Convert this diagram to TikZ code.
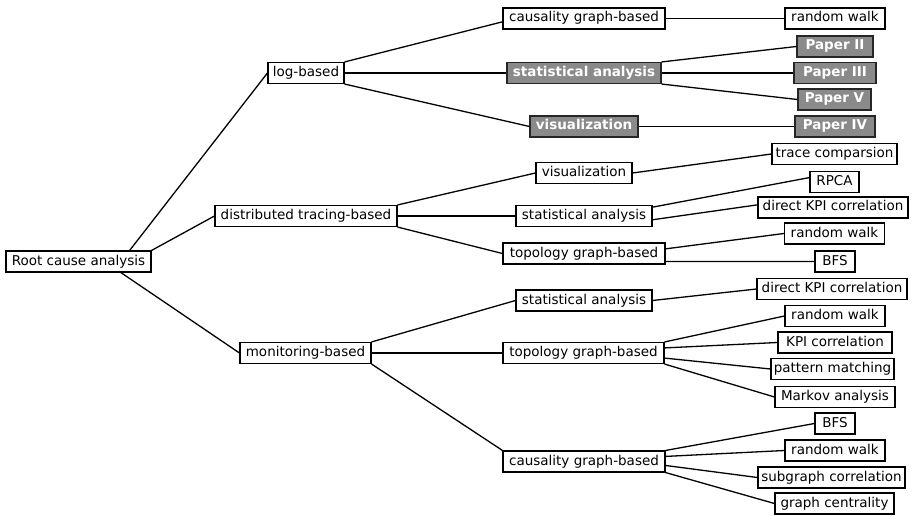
\documentclass[tikz,border=0pt]{standalone}
\usepackage{fontspec}
\setmainfont{DejaVu Sans}
\usetikzlibrary{calc}
\definecolor{paperfill}{RGB}{138,138,138}
\begin{document}
\begin{tikzpicture}[x=1pt,y=-1pt,
  box/.style={draw=black, line width=1.1pt, fill=white, inner xsep=1pt, inner ysep=0pt,
    minimum height=21pt, font=\fontsize{13.5}{16}\selectfont, text height=10pt, text depth=3pt},
  pbox/.style={box, fill=paperfill, draw=black!85, text=white, font=\fontsize{13.5}{16}\selectfont\bfseries},
  conn/.style={line width=1.3pt},
  wd/.style={minimum width=#1pt}]
\useasboundingbox (0,0) rectangle (916,516);
% level 0 and 1
\node[box,wd=145] (root) at (78.5,261.5) {Root cause analysis};
\node[box,wd=76]  (log)  at (306,73) {log-based};
\node[box,wd=182] (dist) at (306,216) {distributed tracing-based};
\node[box,wd=131] (mon)  at (305.5,353) {monitoring-based};
% level 2
\node[box,wd=162]  (lcaus) at (584,18.5) {causality graph-based};
\node[pbox,wd=154] (lstat) at (584,73) {statistical analysis};
\node[pbox,wd=108] (lvis)  at (584,126.5) {visualization};
\node[box,wd=96]   (dvis)  at (584,173) {visualization};
\node[box,wd=136]  (dstat) at (584,216) {statistical analysis};
\node[box,wd=162]  (dtopo) at (584,253.5) {topology graph-based};
\node[box,wd=136]  (mstat) at (584,300.5) {statistical analysis};
\node[box,wd=161]  (mtopo) at (583.5,353) {topology graph-based};
\node[box,wd=162]  (mcaus) at (584,461.5) {causality graph-based};
% level 3
\node[box,wd=100]  (rw1)  at (835,18.5) {random walk};
\node[pbox,wd=76]  (p2)   at (835,46.5) {Paper II};
\node[pbox,wd=82]  (p3)   at (835,73) {Paper III};
\node[pbox,wd=73]  (p5)   at (834.5,99.5) {Paper V};
\node[pbox,wd=80]  (p4)   at (835,126.5) {Paper IV};
\node[box,wd=125]  (tc)   at (834.5,154) {trace comparsion};
\node[box,wd=49]   (rpca) at (834.5,182) {RPCA};
\node[box,wd=150]  (dkpi1) at (833,207.5) {direct KPI correlation};
\node[box,wd=100]  (rw2)  at (834.5,233.5) {random walk};
\node[box,wd=40]   (bfs1) at (835,261.5) {BFS};
\node[box,wd=150]  (dkpi2) at (832,289) {direct KPI correlation};
\node[box,wd=100]  (rw3)  at (835,316) {random walk};
\node[box,wd=114]  (kpi)  at (835,342.5) {KPI correlation};
\node[box,wd=123]  (pm)   at (832.5,369) {pattern matching};
\node[box,wd=120]  (ma)   at (835,397) {Markov analysis};
\node[box,wd=40]   (bfs2) at (835,423.5) {BFS};
\node[box,wd=100]  (rw4)  at (835,450.5) {random walk};
\node[box,wd=147]  (sub)  at (831.5,477.5) {subgraph correlation};
\node[box,wd=119]  (gc)   at (834.5,503.5) {graph centrality};
% connectors: root
\draw[conn] ($(root.north west)!0.85!(root.north east)$) -- (log.west);
\draw[conn] (root.north east) -- (dist.west);
\draw[conn] ($(root.south west)!0.79!(root.south east)$) -- (mon.west);
% log
\draw[conn] (log.north east) -- ($(lcaus.north west)!0.65!(lcaus.south west)$);
\draw[conn] (log.east) -- (lstat.west);
\draw[conn] (log.south east) -- (lvis.west);
% dist
\draw[conn] (dist.north east) -- (dvis.west);
\draw[conn] (dist.east) -- (dstat.west);
\draw[conn] (dist.south east) -- (dtopo.west);
% mon
\draw[conn] (mon.north east) -- (mstat.west);
\draw[conn] (mon.east) -- (mtopo.west);
\draw[conn] (mon.south east) -- (mcaus.north west);
% level 2 -> 3
\draw[conn] (lcaus.east) -- (rw1.west);
\draw[conn] (lstat.north east) -- (p2.west);
\draw[conn] (lstat.east) -- (p3.west);
\draw[conn] (lstat.south east) -- (p5.west);
\draw[conn] (lvis.east) -- (p4.west);
\draw[conn] (dvis.east) -- (tc.west);
\draw[conn] ($(dstat.north east)!0.1!(dstat.south east)$) -- ($(rpca.north west)!0.3!(rpca.south west)$);
\draw[conn] ($(dstat.north east)!0.67!(dstat.south east)$) -- ($(dkpi1.north west)!0.38!(dkpi1.south west)$);
\draw[conn] ($(dtopo.north east)!0.29!(dtopo.south east)$) -- (rw2.west);
\draw[conn] ($(dtopo.north east)!0.86!(dtopo.south east)$) -- (bfs1.west);
\draw[conn] (mstat.east) -- (dkpi2.west);
\draw[conn] (mtopo.north east) -- (rw3.west);
\draw[conn] ($(mtopo.north east)!0.27!(mtopo.south east)$) -- (kpi.west);
\draw[conn] ($(mtopo.north east)!0.73!(mtopo.south east)$) -- (pm.west);
\draw[conn] (mtopo.south east) -- (ma.west);
\draw[conn] (mcaus.north east) -- (bfs2.west);
\draw[conn] ($(mcaus.north east)!0.27!(mcaus.south east)$) -- (rw4.west);
\draw[conn] ($(mcaus.north east)!0.68!(mcaus.south east)$) -- (sub.west);
\draw[conn] (mcaus.south east) -- (gc.west);
\end{tikzpicture}
\end{document}
